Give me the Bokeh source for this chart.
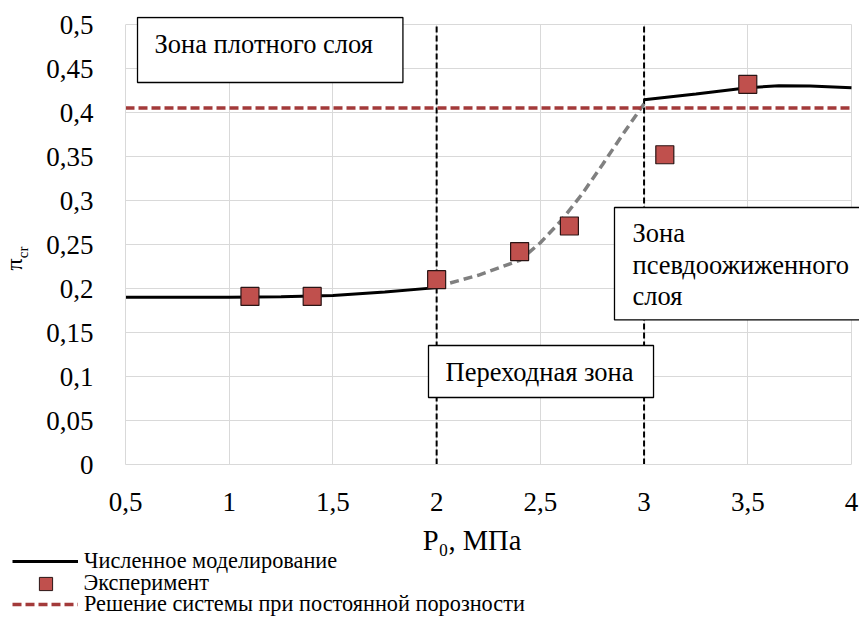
from math import pi
from bokeh.plotting import figure
from bokeh.layouts import column, row
from bokeh.models import Label, Legend, LegendItem, FixedTicker, Range1d, Grid
from bokeh.embed import file_html
from bokeh.resources import INLINE

FONT = "Liberation Serif"

# ---- axes ----
x_lim = (0.5, 4.0)
y_lim = (0.0, 0.5)
x_ticks = [0.5, 1.0, 1.5, 2.0, 2.5, 3.0, 3.5, 4.0]
x_tick_labels = ["0,5", "1", "1,5", "2", "2,5", "3", "3,5", "4"]
y_ticks = [0.0, 0.05, 0.1, 0.15, 0.2, 0.25, 0.3, 0.35, 0.4, 0.45, 0.5]
y_tick_labels = ["0", "0,05", "0,1", "0,15", "0,2", "0,25", "0,3", "0,35", "0,4", "0,45", "0,5"]
x_title = "P₀, МПа"
y_title_main = "π"
y_title_sub = "cr"

# ---- data ----
# numerical simulation, dense-bed branch
sim_dense_p = [0.5, 1.0, 1.25, 1.5, 1.75, 2.0]
sim_dense_pi = [0.190, 0.190, 0.1905, 0.192, 0.196, 0.201]
# numerical simulation, fluidized-bed branch
sim_fluid_p = [3.0, 3.25, 3.5, 3.65, 3.8, 4.0]
sim_fluid_pi = [0.4145, 0.421, 0.428, 0.4305, 0.430, 0.428]
# transition zone (grey dashed)
trans_p = [2.0, 2.2, 2.4, 2.5, 2.6, 2.7, 2.8, 2.9, 3.0]
trans_pi = [0.202, 0.215, 0.232, 0.252, 0.277, 0.307, 0.341, 0.376, 0.410]
# experiment
exp_p = [1.1, 1.4, 2.0, 2.4, 2.64, 3.1, 3.5]
exp_pi = [0.191, 0.191, 0.210, 0.242, 0.271, 0.352, 0.432]
# constant-porosity solution
const_porosity_pi = 0.405
# zone boundaries
zone_bounds = [2.0, 3.0]

legend_labels = ["Численное моделирование", "Эксперимент",
                 "Решение системы при постоянной порозности"]
zone_texts = ["Зона плотного слоя", "Зона\nпсевдоожиженного\nслоя", "Переходная зона"]

# ---- styles ----
RED_FILL = "#C0504D"
RED_LINE = "#A33A3A"
GREY = "#808080"
GRID = "#d9d9d9"
NAN = float("nan")

TOP_H = 520          # height of the chart row
BOT_H = 617 - TOP_H  # height of the title/legend strip

# frame: x 0.5..4 over 726 px, y 0..0.5 over 440 px; extra room right/top for boxes
px_x = 726 / (x_lim[1] - x_lim[0])
px_y = 440 / (y_lim[1] - y_lim[0])
x_end = x_lim[1] + 8 / px_x
y_end = y_lim[1] + 8 / px_y

p = figure(width=819, height=TOP_H, frame_width=734, frame_height=448,
           min_border_left=85, min_border_right=0, min_border_top=16,
           min_border_bottom=TOP_H - 464,
           x_range=Range1d(x_lim[0], x_end), y_range=Range1d(y_lim[0], y_end),
           output_backend="svg", toolbar_location=None)
p.outline_line_color = None

for ax, ticks, labels, lim in ((p.xaxis[0], x_ticks, x_tick_labels, x_lim),
                               (p.yaxis[0], y_ticks, y_tick_labels, y_lim)):
    ax.ticker = FixedTicker(ticks=ticks)
    ax.bounds = lim
    ax.major_label_overrides = {t: l for t, l in zip(ticks, labels)}
    ax.axis_line_color = GRID
    ax.major_tick_line_color = None
    ax.minor_tick_line_color = None
    ax.major_label_text_font = FONT
    ax.major_label_text_font_size = "27px"
    ax.major_label_text_color = "black"
p.xaxis.major_label_standoff = 22
p.yaxis.major_label_standoff = 26

if "cross_bounds" in Grid.properties():
    p.xgrid.cross_bounds = y_lim
    p.ygrid.cross_bounds = x_lim
    for g in (p.xgrid[0], p.ygrid[0]):
        g.grid_line_color = GRID
        g.grid_line_width = 1
else:
    p.xgrid.visible = False
    p.ygrid.visible = False
    p.segment(x0=x_ticks, y0=[y_lim[0]] * len(x_ticks), x1=x_ticks, y1=[y_lim[1]] * len(x_ticks),
              line_color=GRID, line_width=1, level="underlay")
    p.segment(x0=[x_lim[0]] * len(y_ticks), y0=y_ticks, x1=[x_lim[1]] * len(y_ticks), y1=y_ticks,
              line_color=GRID, line_width=1, level="underlay")

# zone boundaries (vertical dashed)
p.segment(x0=zone_bounds, y0=[y_lim[0]] * 2, x1=zone_bounds, y1=[y_lim[1]] * 2,
          line_color="black", line_width=2, line_dash="6 3")

# curves
p.line(trans_p, trans_pi, line_color=GREY, line_width=3.5, line_dash="9 5")
p.line(list(x_lim), [const_porosity_pi, const_porosity_pi],
       line_color=RED_LINE, line_width=3.5, line_dash="9 4")
p.line(sim_dense_p, sim_dense_pi, line_color="black", line_width=3)
p.line(sim_fluid_p, sim_fluid_pi, line_color="black", line_width=3)
p.scatter(exp_p, exp_pi, marker="square", size=18, fill_color=RED_FILL,
          line_color="#2a1515", line_width=1.2)

# zone text boxes (anchor = top-left corner of the box)
box_specs = [
    (0.5579, 0.50795, zone_texts[0], dict(left=17, right=30, top=11, bottom=24), 1.2),
    (2.8574, 0.29205, zone_texts[1], dict(left=18, right=20, top=11, bottom=9), 1.04),
    (1.9607, 0.13523, zone_texts[2], dict(left=17, right=20, top=12, bottom=10), 1.2),
]
for bx, by, txt, pad, lh in box_specs:
    p.add_layout(Label(x=bx, y=by, text=txt, text_align="left", text_baseline="top",
                       text_font=FONT, text_font_size="26.5px", text_color="black",
                       text_line_height=lh,
                       background_fill_color="white", border_line_color="black",
                       border_line_width=1.3, padding=pad))

# ---- y-axis title strip (left of the chart) ----
pl = figure(width=40, height=TOP_H, x_range=Range1d(0, 40), y_range=Range1d(0, TOP_H),
            min_border=0, x_axis_location=None, y_axis_location=None,
            output_backend="svg", toolbar_location=None)
pl.grid.visible = False
pl.outline_line_color = None
pl.add_layout(Label(x=13.1, y=TOP_H - 287.7, text=y_title_main, angle=pi / 2, text_align="center",
                    text_baseline="middle", text_font=FONT, text_font_size="24px",
                    text_color="black"))
pl.add_layout(Label(x=22.2, y=TOP_H - 273.8, text=y_title_sub, angle=pi / 2, text_align="center",
                    text_baseline="middle", text_font=FONT, text_font_size="15px",
                    text_color="black"))

# ---- x-axis title and legend strip (below the chart) ----
pb = figure(width=859, height=BOT_H, x_range=Range1d(0, 859), y_range=Range1d(0, BOT_H),
            min_border=0, x_axis_location=None, y_axis_location=None,
            output_backend="svg", toolbar_location=None)
pb.grid.visible = False
pb.outline_line_color = None
pb.add_layout(Label(x=471.5, y=617 - 539.5, text=x_title, text_align="center",
                    text_baseline="middle", text_font=FONT, text_font_size="28.5px",
                    text_color="black"))

# legend proxies (NaN data: nothing drawn in the strip itself)
d_sim = pb.line([NAN], [NAN], line_color="black", line_width=3)
d_exp = pb.scatter([NAN], [NAN], marker="square", fill_color=RED_FILL, line_color="#2a1515",
                   line_width=1)
d_const = pb.line([NAN], [NAN], line_color=RED_LINE, line_width=3.5, line_dash="9 4")

legend_rows = [  # renderer, label, glyph w, glyph h, standoff, x, y
    (d_sim, legend_labels[0], 66, 24, 6, 12, 43.3),
    (d_exp, legend_labels[1], 33, 33, 22, 28.5, 17.5),
    (d_const, legend_labels[2], 66, 24, 6, 12, 0),
]
for rend, lab, gw, gh, so, lx, ly in legend_rows:
    lg = Legend(items=[LegendItem(label=lab, renderers=[rend])], location=(lx, ly),
                glyph_width=gw, glyph_height=gh, label_height=gh, label_standoff=so,
                padding=0, margin=0, spacing=0, border_line_color=None,
                background_fill_alpha=0, label_text_font=FONT,
                label_text_font_size="22.3px", label_text_color="black")
    pb.add_layout(lg, "center")

layout = column(row(pl, p, spacing=0), pb, spacing=0)
open("out.html", "w").write(file_html(layout, INLINE))
